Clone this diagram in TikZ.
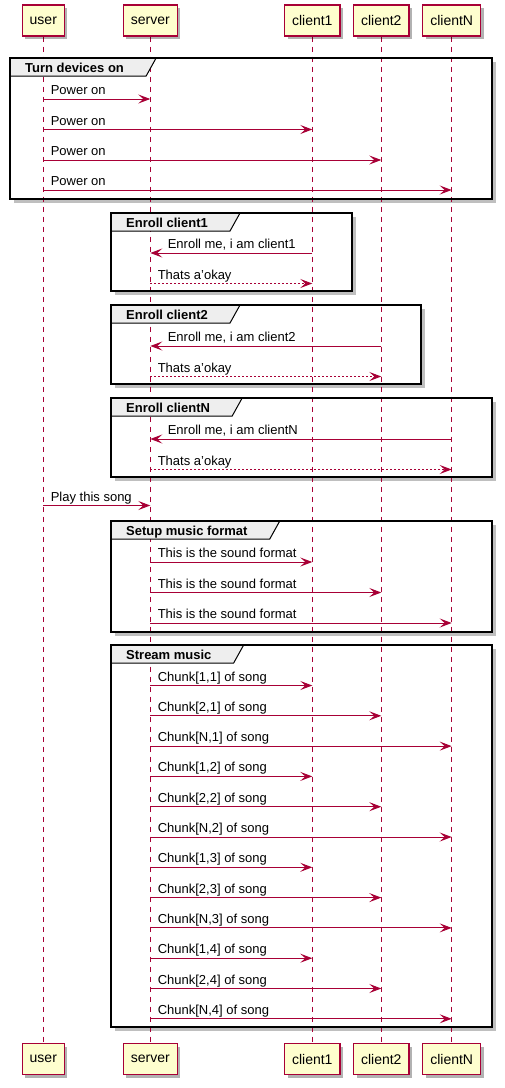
\documentclass[tikz,border=0pt]{standalone}
\usepackage{fontspec}
\setmainfont{Liberation Sans}
\usetikzlibrary{positioning,arrows.meta,shadows}

\definecolor{umlred}{HTML}{A80036}
\definecolor{umlfill}{HTML}{FEFECE}
\definecolor{tabgray}{HTML}{EEEEEE}

\pgfdeclarelayer{bg}
\pgfdeclarelayer{mid}
\pgfsetlayers{bg,mid,main}

\tikzset{
    actor/.style={draw=umlred, fill=umlfill, line width=1.2pt, minimum height=31pt,
        inner xsep=7.5pt, font=\fontsize{14}{16}\selectfont,
        drop shadow={shadow xshift=3pt, shadow yshift=-3pt, fill=black, opacity=.3}},
    life/.style={umlred, line width=1pt, dash pattern=on 5pt off 5pt},
    msg/.style={umlred, line width=1pt, -{Stealth[length=12pt,width=9pt,inset=5pt]}},
    reply/.style={msg, dash pattern=on 2pt off 2pt},
    txt/.style={text=black, font=\fontsize{13}{15}\selectfont, inner sep=0pt},
    fwd/.style={txt, pos=0, anchor=base west, xshift=7pt, yshift=4.5pt},
    back/.style={txt, pos=1, anchor=base west, xshift=17pt, yshift=4.5pt},
    grptitle/.style={font=\fontsize{13}{15}\selectfont\bfseries, inner sep=0pt},
    grptab/.style={fill=tabgray, draw=black, line width=1pt},
    grpbox/.style={draw=black, line width=1.5pt},
}

% group: name, left, top, right, bottom, title
\newcommand{\grp}[6]{%
    \begin{pgfonlayer}{bg}
        \fill[black!25] (#2+4,#3+4) rectangle (#4+4,#5+4);
        \fill[white] (#2,#3) rectangle (#4,#5);
    \end{pgfonlayer}
    \node[grptitle, anchor=base west] (#1) at (#2+15,#3+14) {#6};
    \coordinate (#1-t) at ([xshift=32pt]#1.base east);
    \coordinate (#1-b) at ([xshift=22pt]#1.base east);
    \begin{pgfonlayer}{mid}
        \filldraw[grptab] (#2,#3) -- (#1-t |- 0,#3) -- (#1-b |- 0,#3+18) -- (#2,#3+18) -- cycle;
    \end{pgfonlayer}
    \draw[grpbox] (#2,#3) rectangle (#4,#5);
}

\begin{document}
\begin{tikzpicture}[x=1pt, y=-1pt]
    \useasboundingbox (0,0) rectangle (504,1088);

    % participants
    \node[actor] (user) at (43.3,20.5) {user};
    \node[actor] (server) at (150.3,20.5) {server};
    \node[actor] (client1) at (312.3,20.5) {client1};
    \node[actor] (client2) at (381.3,20.5) {client2};
    \node[actor] (clientN) at (451.7,20.5) {clientN};

    \node[actor] (user-b) at (user |- 0,1059) {user};
    \node[actor] (server-b) at (server |- 0,1059) {server};
    \node[actor] (client1-b) at (client1 |- 0,1059) {client1};
    \node[actor] (client2-b) at (client2 |- 0,1059) {client2};
    \node[actor] (clientN-b) at (clientN |- 0,1059) {clientN};

    % groups
    \grp{on}{10}{58}{492}{199}{Turn devices on}
    \grp{enr1}{111}{213}{352}{291}{Enroll client1}
    \grp{enr2}{111}{305}{421}{384}{Enroll client2}
    \grp{enrN}{111}{398}{492}{477}{Enroll clientN}
    \grp{fmt}{111}{521}{492}{632}{Setup music format}
    \grp{stream}{111}{645}{492}{1027}{Stream music}

    % lifelines
    \begin{pgfonlayer}{bg}
        \foreach \p in {user,server,client1,client2,clientN}
            \draw[life] (\p) -- (\p-b);
    \end{pgfonlayer}

    % turn devices on
    \draw[msg] (user |- 0,99) -- (server |- 0,99) node[fwd] {Power on};
    \draw[msg] (user |- 0,129.5) -- (client1 |- 0,129.5) node[fwd] {Power on};
    \draw[msg] (user |- 0,160) -- (client2 |- 0,160) node[fwd] {Power on};
    \draw[msg] (user |- 0,190) -- (clientN |- 0,190) node[fwd] {Power on};

    % enrollment
    \draw[msg] (client1 |- 0,253) -- (server |- 0,253) node[back] {Enroll me, i am client1};
    \draw[reply] (server |- 0,283.5) -- (client1 |- 0,283.5) node[fwd] {Thats a'okay};
    \draw[msg] (client2 |- 0,346) -- (server |- 0,346) node[back] {Enroll me, i am client2};
    \draw[reply] (server |- 0,376.5) -- (client2 |- 0,376.5) node[fwd] {Thats a'okay};
    \draw[msg] (clientN |- 0,439) -- (server |- 0,439) node[back] {Enroll me, i am clientN};
    \draw[reply] (server |- 0,469.5) -- (clientN |- 0,469.5) node[fwd] {Thats a'okay};

    \draw[msg] (user |- 0,505.5) -- (server |- 0,505.5) node[fwd] {Play this song};

    % sound format
    \draw[msg] (server |- 0,562) -- (client1 |- 0,562) node[fwd] {This is the sound format};
    \draw[msg] (server |- 0,592.5) -- (client2 |- 0,592.5) node[fwd] {This is the sound format};
    \draw[msg] (server |- 0,623) -- (clientN |- 0,623) node[fwd] {This is the sound format};

    % stream
    \foreach \j in {1,...,4}
        \foreach \i/\c [count=\k] in {1/client1,2/client2,N/clientN} {
            \pgfmathsetmacro\yy{685.5+30.3*(3*(\j-1)+\k-1)}
            \draw[msg] (server |- 0,\yy) -- (\c |- 0,\yy) node[fwd] {Chunk[\i,\j] of song};
        }
\end{tikzpicture}
\end{document}
